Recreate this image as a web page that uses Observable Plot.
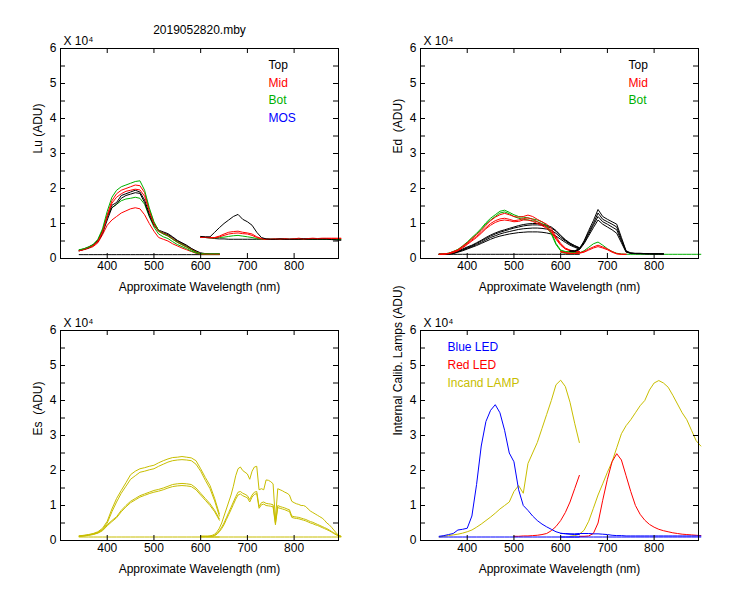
<!DOCTYPE html>
<html><head><meta charset="utf-8">
<script src="https://cdn.jsdelivr.net/npm/d3@7"></script>
<script src="https://cdn.jsdelivr.net/npm/@observablehq/plot@0.6"></script>
<style>
body{margin:0;background:#fff;}
#wrap{position:relative;width:750px;height:600px;background:#fff;overflow:hidden;}
#wrap svg{position:absolute;}
</style></head><body><div id="wrap"></div>
<script>
// ---------- wavelength grids ----------
const wlA = [340,350,360,370,380,390,400,410,420,430,440,450,460,470,480,490,500,510,520,530,540,550,560,570,580,590,600,610,620,630,640];
const wlB = [600,610,620,630,640,650,660,670,680,690,700,710,720,730,740,750,760,770,780,790,800,810,820,830,840,850,860,870,880,890,900];
const wlB5 = [600,605,610,615,620,625,630,635,640,645,650,655,660,665,670,675,680,685,690,695,700,705,710,715,720,725,730,735,740,745,750,755,760,765,770,775,780,785,790,795,800,805,810,815,820,825,830,835,840,845,850,855,860,865,870,875,880,885,890,895,900];

// ---------- tick labels ----------
const yLabelTicks = [0,1,2,3,4,5,6];
const yMarkTicks = [0,0.5,1,1.5,2,2.5,3,3.5,4,4.5,5,5.5,6];
const xTicks = [400,500,600,700,800];
const title = "2019052820.mby";
const xTitle = "Approximate Wavelength (nm)";
const scaleNote = "X 10\u2074";

// ---------- Lu (ADU) ----------
const luDarkA = [0.11,0.11,0.11,0.11,0.11,0.11,0.11,0.11,0.11,0.11,0.11,0.11,0.11,0.11,0.11,0.11,0.11,0.11,0.11,0.11,0.11,0.11,0.11,0.11,0.11,0.11,0.11,0.11,0.11,0.11,0.11];
const luTopA  = [0.24,0.27,0.33,0.4,0.52,0.8,1.19,1.52,1.6,1.8,1.85,1.9,1.95,1.9,1.67,1.28,1.0,0.81,0.76,0.71,0.62,0.52,0.45,0.38,0.29,0.22,0.16,0.14,0.13,0.13,0.13];
const luTop2A = [0.22,0.26,0.3,0.38,0.48,0.72,1.1,1.45,1.55,1.72,1.8,1.84,1.88,1.86,1.6,1.22,0.95,0.78,0.73,0.68,0.6,0.5,0.43,0.36,0.28,0.2,0.15,0.13,0.12,0.12,0.12];
const luMid1A = [0.23,0.27,0.32,0.38,0.5,0.78,1.25,1.65,1.85,1.95,2.0,2.05,2.1,2.08,1.88,1.4,1.02,0.8,0.72,0.66,0.57,0.48,0.41,0.34,0.26,0.19,0.14,0.13,0.12,0.12,0.12];
const luMid2A = [0.22,0.26,0.31,0.37,0.48,0.75,1.2,1.58,1.75,1.85,1.92,1.95,1.98,1.96,1.78,1.35,0.98,0.77,0.7,0.64,0.55,0.46,0.39,0.32,0.25,0.18,0.14,0.12,0.12,0.12,0.12];
const luMid3A = [0.22,0.25,0.29,0.34,0.45,0.68,0.95,1.1,1.2,1.3,1.36,1.42,1.45,1.42,1.25,1.0,0.78,0.6,0.55,0.5,0.42,0.36,0.3,0.25,0.2,0.15,0.13,0.12,0.12,0.12,0.12];
const luBot1A = [0.25,0.28,0.33,0.4,0.55,0.85,1.35,1.75,1.95,2.05,2.1,2.15,2.2,2.22,1.95,1.45,1.05,0.8,0.7,0.65,0.55,0.47,0.4,0.33,0.25,0.18,0.14,0.13,0.13,0.13,0.13];
const luBot2A = [0.24,0.27,0.31,0.37,0.5,0.8,1.2,1.45,1.55,1.65,1.7,1.72,1.75,1.72,1.55,1.2,0.9,0.7,0.62,0.57,0.48,0.4,0.34,0.28,0.21,0.16,0.13,0.12,0.12,0.12,0.12];
const luDarkB = [0.6,0.6,0.59,0.57,0.56,0.56,0.55,0.55,0.55,0.55,0.55,0.55,0.55,0.55,0.55,0.55,0.55,0.55,0.55,0.55,0.55,0.55,0.55,0.55,0.55,0.55,0.55,0.55,0.55,0.54,0.54];
const luTopB  = [0.63,0.62,0.62,0.75,0.88,1.0,1.1,1.2,1.26,1.12,1.05,0.95,0.75,0.6,0.56,0.55,0.55,0.56,0.55,0.55,0.55,0.55,0.56,0.55,0.55,0.55,0.55,0.55,0.54,0.53,0.52];
const luMid1B = [0.62,0.61,0.6,0.6,0.64,0.7,0.75,0.77,0.78,0.75,0.73,0.7,0.62,0.57,0.55,0.55,0.56,0.55,0.57,0.55,0.56,0.58,0.56,0.57,0.58,0.57,0.58,0.58,0.58,0.58,0.58];
const luMid2B = [0.6,0.6,0.59,0.59,0.62,0.66,0.7,0.72,0.73,0.71,0.7,0.66,0.6,0.56,0.55,0.55,0.55,0.56,0.55,0.55,0.56,0.56,0.55,0.56,0.57,0.56,0.57,0.57,0.57,0.57,0.57];
const luBotB  = [0.6,0.6,0.59,0.59,0.6,0.61,0.63,0.65,0.66,0.64,0.62,0.6,0.57,0.55,0.55,0.55,0.55,0.55,0.55,0.55,0.55,0.55,0.55,0.55,0.55,0.55,0.55,0.55,0.55,0.55,0.55];

// ---------- Ed (ADU) ----------
const edDarkA = [0.12,0.12,0.12,0.12,0.12,0.12,0.12,0.12,0.12,0.12,0.12,0.12,0.12,0.12,0.12,0.12,0.12,0.12,0.12,0.12,0.12,0.12,0.12,0.12,0.12,0.12,0.12,0.12,0.12,0.12,0.12];
const edTop1A = [0.12,0.12,0.13,0.14,0.18,0.22,0.27,0.32,0.37,0.43,0.49,0.55,0.6,0.64,0.67,0.7,0.72,0.74,0.75,0.76,0.76,0.76,0.75,0.73,0.7,0.64,0.55,0.46,0.38,0.32,0.27];
const edTop2A = [0.12,0.12,0.13,0.15,0.19,0.24,0.29,0.34,0.4,0.46,0.53,0.6,0.65,0.7,0.74,0.77,0.8,0.83,0.85,0.86,0.87,0.87,0.86,0.84,0.8,0.72,0.6,0.5,0.41,0.34,0.29];
const edTop3A = [0.12,0.12,0.13,0.15,0.2,0.25,0.31,0.36,0.43,0.5,0.57,0.64,0.7,0.75,0.79,0.83,0.87,0.9,0.93,0.95,0.96,0.96,0.95,0.92,0.87,0.78,0.64,0.52,0.43,0.36,0.3];
const edTop4A = [0.12,0.12,0.14,0.16,0.21,0.27,0.33,0.38,0.45,0.52,0.6,0.67,0.73,0.78,0.82,0.86,0.9,0.94,0.97,0.99,1.0,1.0,0.98,0.95,0.9,0.8,0.66,0.54,0.44,0.37,0.31];
const edMid1A = [0.12,0.13,0.15,0.2,0.25,0.35,0.45,0.57,0.68,0.8,0.95,1.08,1.18,1.25,1.29,1.25,1.2,1.18,1.2,1.24,1.2,1.12,1.05,0.98,0.86,0.62,0.43,0.3,0.24,0.21,0.2];
const edMid2A = [0.12,0.13,0.14,0.18,0.23,0.32,0.42,0.53,0.63,0.75,0.88,1.0,1.08,1.13,1.15,1.12,1.08,1.1,1.14,1.16,1.12,1.05,0.98,0.9,0.8,0.58,0.4,0.28,0.23,0.2,0.19];
const edMid3A = [0.12,0.12,0.14,0.17,0.22,0.3,0.4,0.5,0.6,0.72,0.85,0.95,1.03,1.08,1.1,1.08,1.05,1.06,1.1,1.1,1.06,1.0,0.94,0.86,0.75,0.55,0.38,0.27,0.22,0.2,0.18];
const edBot1A = [0.12,0.13,0.15,0.2,0.26,0.36,0.47,0.6,0.72,0.86,1.02,1.15,1.25,1.35,1.38,1.32,1.25,1.2,1.18,1.16,1.13,1.1,1.05,0.95,0.75,0.43,0.24,0.2,0.19,0.18,0.18];
const edBot2A = [0.12,0.13,0.15,0.19,0.25,0.34,0.45,0.57,0.69,0.83,0.98,1.1,1.2,1.3,1.33,1.28,1.2,1.15,1.12,1.1,1.08,1.05,1.0,0.9,0.7,0.4,0.22,0.19,0.18,0.17,0.17];
const edTop1B = [null,null,0.22,0.22,0.28,0.5,0.8,1.08,1.4,1.2,1.12,1.05,0.98,0.6,0.22,0.16,0.15,0.15,0.14,0.14,0.14,0.14,0.13,null,null,null,null,null,null,null,null];
const edTop2B = [null,null,0.21,0.21,0.27,0.47,0.75,1.0,1.3,1.12,1.05,0.98,0.9,0.55,0.2,0.15,0.14,0.14,0.14,0.14,0.13,0.13,0.13,null,null,null,null,null,null,null,null];
const edTop3B = [null,null,0.21,0.21,0.26,0.45,0.7,0.95,1.2,1.05,0.98,0.9,0.82,0.5,0.2,0.15,0.14,0.14,0.14,0.13,0.13,0.13,0.13,null,null,null,null,null,null,null,null];
const edTop4B = [null,null,0.2,0.2,0.25,0.42,0.65,0.88,1.1,0.98,0.9,0.82,0.72,0.45,0.18,0.15,0.14,0.14,0.13,0.13,0.13,0.13,0.13,null,null,null,null,null,null,null,null];
const edMid1B = [0.2,0.17,0.15,0.15,0.16,0.2,0.27,0.33,0.38,0.33,0.27,0.2,0.14,0.12,0.12,null,null,null,null,null,null,null,null,null,null,null,null,null,null,null,null];
const edMid2B = [0.19,0.16,0.14,0.14,0.15,0.18,0.24,0.3,0.34,0.3,0.25,0.18,0.13,0.12,0.12,null,null,null,null,null,null,null,null,null,null,null,null,null,null,null,null];
const edBotB  = [0.18,0.15,0.14,0.14,0.16,0.22,0.32,0.42,0.47,0.38,0.28,0.2,0.15,0.13,0.12,0.12,0.12,0.12,0.12,0.12,0.12,0.12,0.12,0.12,0.12,0.12,0.12,0.12,0.12,0.12,0.12];

// ---------- Es (ADU) ----------
const esDarkA = [0.1,0.1,0.1,0.1,0.1,0.1,0.1,0.1,0.1,0.1,0.1,0.1,0.1,0.1,0.1,0.1,0.1,0.1,0.1,0.1,0.1,0.1,0.1,0.1,0.1,0.1,0.1,0.1,0.1,0.1,0.1];
const esTopA  = [0.13,0.15,0.17,0.2,0.25,0.35,0.55,0.9,1.2,1.43,1.65,1.88,1.98,2.05,2.08,2.12,2.15,2.22,2.28,2.33,2.37,2.38,2.4,2.38,2.36,2.28,2.05,1.8,1.57,1.2,0.76];
const esTop2A = [0.13,0.14,0.16,0.19,0.23,0.32,0.5,0.82,1.1,1.35,1.55,1.75,1.85,1.95,1.98,2.02,2.05,2.12,2.18,2.24,2.28,2.3,2.31,2.3,2.28,2.18,1.98,1.72,1.48,1.13,0.7];
const esLow1A = [0.12,0.13,0.15,0.18,0.22,0.3,0.45,0.57,0.68,0.86,1.0,1.12,1.2,1.28,1.33,1.38,1.43,1.46,1.5,1.55,1.6,1.62,1.63,1.62,1.6,1.5,1.35,1.2,1.05,0.86,0.62];
const esLow2A = [0.12,0.13,0.15,0.17,0.21,0.28,0.42,0.54,0.65,0.82,0.96,1.08,1.16,1.24,1.29,1.34,1.38,1.41,1.45,1.5,1.54,1.56,1.57,1.56,1.54,1.45,1.3,1.15,1.0,0.82,0.58];
const esDarkB = [0.1,0.1,0.1,0.1,0.1,0.1,0.1,0.1,0.1,0.1,0.1,0.1,0.1,0.1,0.1,0.1,0.1,0.1,0.1,0.1,0.1,0.1,0.1,0.1,0.1,0.1,0.1,0.1,0.1,0.1,0.1];
const esTopB  = [0.12,0.12,0.12,0.12,0.13,0.15,0.18,0.25,0.35,0.5,0.7,0.9,1.1,1.3,1.55,1.85,2.05,2.1,2.0,1.95,1.9,1.75,1.98,2.1,2.12,1.45,1.48,1.45,1.73,1.72,1.68,1.62,0.6,1.48,1.45,1.42,1.38,1.35,1.3,1.12,1.08,1.05,1.03,1.0,1.0,0.97,0.9,0.84,0.8,0.76,0.72,0.68,0.64,0.58,0.5,0.45,0.38,0.3,0.22,0.15,0.12];
const esLow1B = [0.12,0.12,0.12,0.12,0.12,0.13,0.15,0.2,0.28,0.38,0.5,0.65,0.8,0.95,1.1,1.25,1.38,1.4,1.35,1.32,1.28,1.17,1.3,1.38,1.4,0.97,1.08,1.1,1.06,1.05,1.04,1.02,0.5,1.0,0.97,0.95,0.93,0.9,0.88,0.7,0.68,0.67,0.66,0.64,0.62,0.6,0.57,0.54,0.52,0.49,0.46,0.43,0.4,0.37,0.34,0.3,0.26,0.22,0.18,0.14,0.12];
const esLow2B = [0.12,0.12,0.12,0.12,0.12,0.12,0.14,0.18,0.25,0.34,0.45,0.6,0.74,0.88,1.03,1.18,1.3,1.33,1.28,1.25,1.22,1.1,1.24,1.32,1.34,0.92,1.02,1.04,1.0,0.99,0.98,0.96,0.45,0.94,0.92,0.9,0.88,0.85,0.83,0.66,0.64,0.63,0.62,0.6,0.58,0.56,0.53,0.5,0.48,0.45,0.43,0.4,0.37,0.34,0.31,0.28,0.24,0.2,0.16,0.13,0.12];

// ---------- Internal calibration lamps (ADU) ----------
const blueDarkA = [0.1,0.1,0.1,0.1,0.1,0.1,0.1,0.1,0.1,0.1,0.1,0.1,0.1,0.1,0.1,0.1,0.1,0.1,0.1,0.1,0.1,0.1,0.1,0.1,0.1,0.1,0.1,0.1,0.1,0.1,0.1];
const blueLedA  = [0.12,0.14,0.17,0.2,0.3,0.32,0.35,0.7,1.6,2.7,3.4,3.72,3.88,3.65,3.15,2.5,2.25,1.45,1.0,0.86,0.7,0.57,0.47,0.39,0.32,0.25,0.21,0.19,0.18,0.17,0.17];
const blueDarkB = [0.1,0.1,0.1,0.1,0.1,0.1,0.1,0.1,0.1,0.1,0.1,0.1,0.1,0.1,0.1,0.1,0.1,0.1,0.1,0.1,0.1,0.1,0.1,0.1,0.1,0.1,0.1,0.1,0.1,0.1,0.1];
const blueLedB  = [0.2,0.2,0.19,0.19,0.2,0.2,0.2,0.19,0.19,0.18,0.17,0.15,0.14,0.14,0.13,0.13,0.13,0.13,0.13,0.13,0.13,0.13,0.13,0.13,0.13,0.13,0.13,0.13,0.13,0.13,0.13];
const redLedA   = [null,null,null,null,null,null,null,null,null,null,null,null,null,null,null,null,0.12,0.12,0.13,0.13,0.14,0.15,0.17,0.2,0.28,0.4,0.57,0.8,1.1,1.48,1.86];
const redLedB   = [null,null,null,null,0.12,0.12,0.13,0.2,0.5,1.15,1.75,2.25,2.48,2.3,1.85,1.4,1.0,0.75,0.58,0.46,0.38,0.32,0.28,0.25,0.22,0.2,0.18,0.17,0.16,0.15,0.14];
const lampA     = [0.1,0.12,0.14,0.16,0.18,0.21,0.25,0.3,0.38,0.47,0.57,0.67,0.78,0.9,1.0,1.1,1.4,1.57,1.35,2.2,2.5,2.8,3.2,3.6,4.0,4.45,4.58,4.4,3.95,3.35,2.8];
const lampB     = [null,null,0.12,0.14,0.18,0.29,0.55,0.92,1.3,1.62,1.95,2.25,2.65,3.05,3.28,3.45,3.65,3.85,4.0,4.3,4.5,4.57,4.5,4.38,4.15,3.9,3.65,3.45,3.15,2.85,2.7];

// ---------- colours ----------
const BLACK = "#000000", RED = "#ff0000", GREEN = "#00b000", BLUE = "#0000ff", OLIVE = "#c8be00";

function rows(wl, vals) {
  return wl.map((w, i) => ({wl: w, v: vals[i]})).filter(d => d.v != null);
}

const W = 360, H = 300, ML = 60, MR = 22, MT = 48, MB = 42;
const innerW = W - ML - MR, innerH = H - MT - MB, TICK = 5;

function panel({series, ylabel, legend = [], heading = null}) {
  const marks = [];
  for (const [wl, vals, color] of series) {
    marks.push(Plot.line(rows(wl, vals), {x: "wl", y: "v", stroke: color, strokeWidth: 1}));
  }
  marks.push(
    Plot.frame({stroke: "black"}),
    // inward tick marks on all four sides
    Plot.tickY(yMarkTicks, {y: d => d, stroke: "black", insetRight: innerW - TICK}),
    Plot.tickY(yMarkTicks, {y: d => d, stroke: "black", insetLeft: innerW - TICK}),
    Plot.tickX(xTicks, {x: d => d, stroke: "black", insetTop: innerH - TICK}),
    Plot.tickX(xTicks, {x: d => d, stroke: "black", insetBottom: innerH - TICK}),
    Plot.axisY({anchor: "left", ticks: yLabelTicks, tickSize: 0, tickPadding: 4, tickFormat: d => String(d), label: null}),
    Plot.axisX({anchor: "bottom", ticks: xTicks, tickSize: 0, tickPadding: 3, tickFormat: d => String(d), label: null}),
    Plot.text([xTitle], {text: d => d, frameAnchor: "bottom", lineAnchor: "middle", dy: 29}),
    Plot.text([ylabel], {text: d => d, frameAnchor: "left", lineAnchor: "middle", rotate: -90, dx: -22}),
    Plot.text([scaleNote], {text: d => d, frameAnchor: "top-left", lineAnchor: "middle", textAnchor: "start", dx: 3, dy: -7})
  );
  if (heading) marks.push(Plot.text([heading], {text: d => d, frameAnchor: "top", lineAnchor: "middle", dy: -18}));
  legend.forEach(([label, color, dx, dy]) => {
    marks.push(Plot.text([label], {text: d => d, frameAnchor: "top-left", lineAnchor: "middle", textAnchor: "start", dx, dy, fill: color}));
  });
  return Plot.plot({
    width: W, height: H,
    marginLeft: ML, marginRight: MR, marginTop: MT, marginBottom: MB,
    style: {background: "transparent", fontFamily: "'Liberation Sans', Arial, sans-serif", fontSize: "12px", overflow: "visible", color: "black"},
    x: {domain: [300, 895]},
    y: {domain: [0, 6]},
    marks
  });
}

const p1 = panel({
  heading: title, ylabel: "Lu (ADU)",
  series: [
    [wlA, luDarkA, BLACK], [wlA, luMid3A, RED], [wlA, luBot2A, GREEN], [wlA, luTop2A, BLACK], [wlA, luTopA, BLACK],
    [wlA, luMid2A, RED], [wlA, luMid1A, RED], [wlA, luBot1A, GREEN],
    [wlB, luDarkB, BLACK], [wlB, luBotB, GREEN], [wlB, luMid2B, RED], [wlB, luMid1B, RED], [wlB, luTopB, BLACK]
  ],
  legend: [["Top", BLACK, 208, 17], ["Mid", RED, 208, 34.5], ["Bot", GREEN, 208, 52], ["MOS", BLUE, 208, 69.5]]
});
const p2 = panel({
  ylabel: "Ed  (ADU)",
  series: [
    [wlA, edDarkA, BLACK], [wlA, edTop1A, BLACK], [wlA, edTop2A, BLACK], [wlA, edTop3A, BLACK], [wlA, edTop4A, BLACK],
    [wlA, edBot2A, GREEN], [wlA, edBot1A, GREEN], [wlA, edMid3A, RED], [wlA, edMid2A, RED], [wlA, edMid1A, RED],
    [wlB, edBotB, GREEN], [wlB, edTop1B, BLACK], [wlB, edTop2B, BLACK], [wlB, edTop3B, BLACK], [wlB, edTop4B, BLACK],
    [wlB, edMid2B, RED], [wlB, edMid1B, RED]
  ],
  legend: [["Top", BLACK, 208, 17], ["Mid", RED, 208, 34.5], ["Bot", GREEN, 208, 52]]
});
const p3 = panel({
  ylabel: "Es  (ADU)",
  series: [
    [wlA, esDarkA, OLIVE], [wlA, esTopA, OLIVE], [wlA, esTop2A, OLIVE], [wlA, esLow1A, OLIVE], [wlA, esLow2A, OLIVE],
    [wlB, esDarkB, OLIVE], [wlB5, esTopB, OLIVE], [wlB5, esLow1B, OLIVE], [wlB5, esLow2B, OLIVE]
  ]
});
const p4 = panel({
  ylabel: "Internal Calib. Lamps (ADU)",
  series: [
    [wlA, lampA, OLIVE], [wlB, lampB, OLIVE],
    [wlA, redLedA, RED], [wlB, redLedB, RED],
    [wlA, blueDarkA, BLUE], [wlB, blueDarkB, BLUE], [wlA, blueLedA, BLUE], [wlB, blueLedB, BLUE]
  ],
  legend: [["Blue LED", BLUE, 27, 17], ["Red LED", RED, 27, 35], ["Incand LAMP", OLIVE, 27, 52.5]]
});

const wrap = document.getElementById("wrap");
[[p1, 0, 0], [p2, 360, 0], [p3, 0, 282], [p4, 360, 282]].forEach(([svg, left, top]) => {
  svg.style.left = left + "px";
  svg.style.top = top + "px";
  wrap.appendChild(svg);
});
</script>
</body></html>
